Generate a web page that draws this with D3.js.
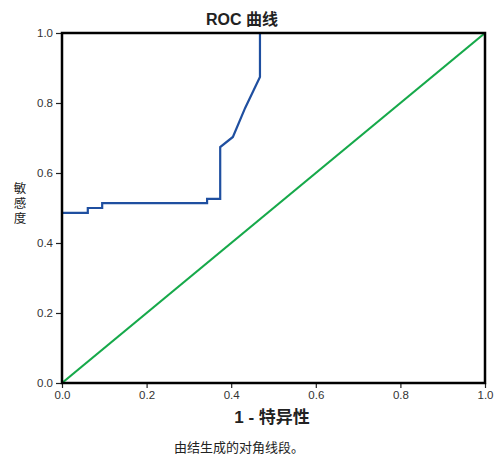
<!DOCTYPE html>
<html>
<head>
<meta charset="utf-8">
<script src="https://cdn.jsdelivr.net/npm/d3@7"></script>
<style>
  body { margin: 0; background: #fff; }
  .tick text { font-family: "Liberation Sans", Arial, sans-serif; font-size: 11.5px; fill: #333; }
  .lbl { font-family: "Liberation Sans", "Noto Sans CJK SC", sans-serif; fill: #222; }
</style>
</head>
<body>
<div id="chart"></div>
<script>
// ROC curve (1 - specificity, sensitivity)
var rocFpr  = [0, 0.061, 0.061, 0.095, 0.095, 0.343, 0.343, 0.374, 0.374, 0.404, 0.433, 0.468, 0.468, 1];
var rocTpr  = [0.486, 0.486, 0.5, 0.5, 0.514, 0.514, 0.526, 0.526, 0.674, 0.703, 0.786, 0.874, 1, 1];
var refLine = [0, 1];
var tickValues = [0, 0.2, 0.4, 0.6, 0.8, 1.0];

var W = 494, H = 455;
var margin = {top: 33, right: 9, bottom: 72, left: 62},
    width = W - margin.left - margin.right,
    height = H - margin.top - margin.bottom;

var svg = d3.select("#chart")
  .append("svg")
    .attr("width", W)
    .attr("height", H)
  .append("g")
    .attr("transform", "translate(" + margin.left + "," + margin.top + ")");

var x = d3.scaleLinear().domain([0, 1]).range([0, width]);
var y = d3.scaleLinear().domain([0, 1]).range([height, 0]);

// axes
var xAxis = svg.append("g")
  .attr("transform", "translate(0," + height + ")")
  .call(d3.axisBottom(x).tickValues(tickValues).tickFormat(d3.format(".1f")).tickSize(5).tickPadding(3));
var yAxis = svg.append("g")
  .call(d3.axisLeft(y).tickValues(tickValues).tickFormat(d3.format(".1f")).tickSize(6).tickPadding(3));
[xAxis, yAxis].forEach(function(a) {
  a.select(".domain").remove();
  a.selectAll(".tick line").attr("stroke", "#222").attr("stroke-width", 1.2);
});

// reference diagonal
svg.append("path")
  .datum(refLine)
  .attr("fill", "none")
  .attr("stroke", "#16a94a")
  .attr("stroke-width", 2.2)
  .attr("d", d3.line().x(function(d) { return x(d); }).y(function(d) { return y(d); }));

// ROC curve
svg.append("path")
  .datum(d3.range(rocFpr.length))
  .attr("fill", "none")
  .attr("stroke", "#1f4fa0")
  .attr("stroke-width", 2.2)
  .attr("d", d3.line().x(function(i) { return x(rocFpr[i]); }).y(function(i) { return y(rocTpr[i]); }));

// frame
svg.append("rect")
  .attr("x", 0).attr("y", 0)
  .attr("width", width).attr("height", height)
  .attr("fill", "none")
  .attr("stroke", "#000")
  .attr("stroke-width", 2.5);

// title
svg.append("text")
  .attr("class", "lbl")
  .attr("x", 180).attr("y", -8)
  .attr("text-anchor", "middle")
  .style("font-size", "16px").style("font-weight", "bold")
  .text("ROC 曲线");

// x axis label
svg.append("text")
  .attr("class", "lbl")
  .attr("x", 210).attr("y", height + 40)
  .attr("text-anchor", "middle")
  .style("font-size", "17px").style("font-weight", "bold")
  .text("1 - 特异性");

// y axis label, stacked characters
var yl = svg.append("text")
  .attr("class", "lbl")
  .attr("text-anchor", "middle")
  .style("font-size", "12.5px");
"敏感度".split("").forEach(function(c, i) {
  yl.append("tspan").attr("x", -42).attr("y", 160 + i * 15).text(c);
});

// footnote
svg.append("text")
  .attr("class", "lbl")
  .attr("x", 177).attr("y", height + 64)
  .attr("dy", "0.35em")
  .attr("text-anchor", "middle")
  .style("font-size", "13px")
  .style("font-family", "'Noto Sans CJK SC', serif")
  .text("由结生成的对角线段。");
</script>
</body>
</html>
